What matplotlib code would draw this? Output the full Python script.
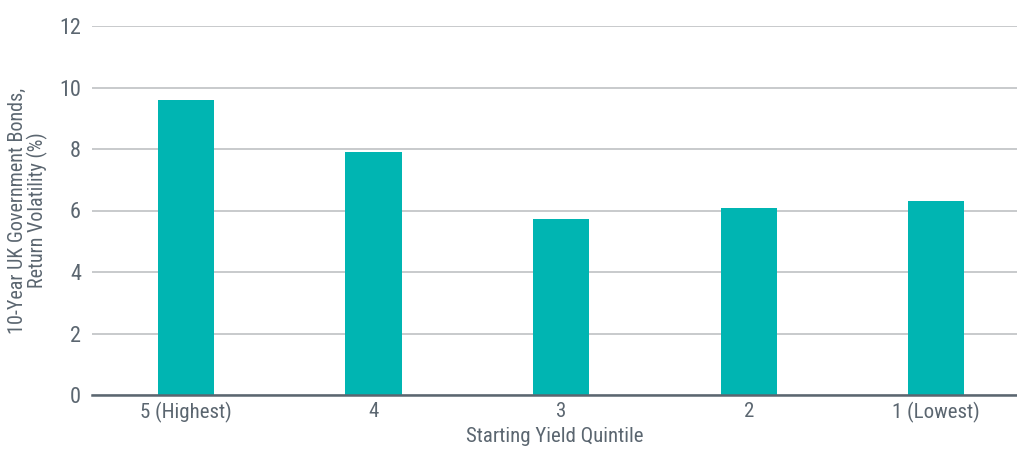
import matplotlib
matplotlib.use("Agg")
import matplotlib.pyplot as plt
from matplotlib import font_manager

categories = ["5 (Highest)", "4", "3", "2", "1 (Lowest)"]
values = [9.6, 7.9, 5.72, 6.08, 6.31]
yticks = [0, 2, 4, 6, 8, 10, 12]

names = {f.name for f in font_manager.fontManager.ttflist}
fam = [n for n in ["Roboto Condensed", "Liberation Sans Narrow", "Open Sans Condensed", "DejaVu Sans Condensed", "Roboto"] if n in names]
fam = fam + ["DejaVu Sans"]
plt.rcParams['font.family'] = fam

text_color = "#5b6670"
fig = plt.figure(figsize=(10.17, 4.5), dpi=100)
ax = fig.add_axes([92/1017, 55/450, (1017-92)/1017, (395-26)/450])
x = list(range(len(categories)))
ax.bar(x, values, width=0.3, color="#00b5b2", zorder=3)
ax.set_xlim(-0.5, 4.43)
ax.set_ylim(0, 12)
ax.set_yticks(yticks)
ax.set_xticks(x)
ax.set_xticklabels(categories)
ax.grid(axis="y", color="#c4c6c8", linewidth=1.3, zorder=0)
for s in ["top", "right", "left"]:
    ax.spines[s].set_visible(False)
ax.spines["bottom"].set_color("#5b6670")
ax.spines["bottom"].set_linewidth(1.8)
ax.spines["bottom"].set_zorder(4)
ax.tick_params(axis="x", length=0, labelsize=15, colors=text_color, pad=5)
ax.tick_params(axis="y", length=0, labelsize=16, colors=text_color, pad=8)
ax.set_xlabel("Starting Yield Quintile", fontsize=15, color=text_color, labelpad=3)
ax.set_ylabel("10-Year UK Government Bonds,\nReturn Volatility (%)", fontsize=14.5, color=text_color, labelpad=8, linespacing=1.0)
fig.savefig("out.png", dpi=100)
